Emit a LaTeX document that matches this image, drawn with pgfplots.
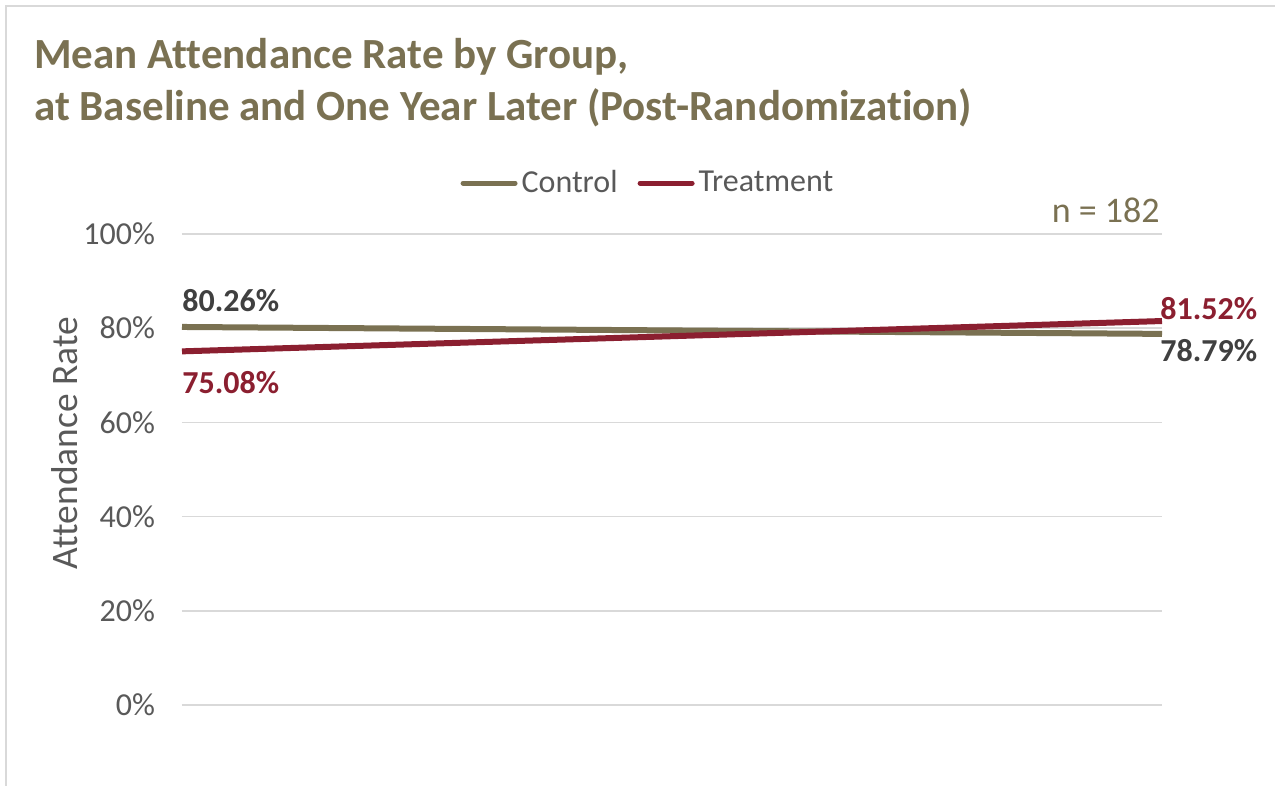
\documentclass[border=0pt]{standalone}
\usepackage{pgfplots}
\pgfplotsset{compat=1.18}
\usepackage{fontspec}
\setmainfont{Carlito}[Ligatures={NoCommon}]

\definecolor{ctrl}{HTML}{7A7152}
\definecolor{treat}{HTML}{8B1F30}
\definecolor{txtgray}{HTML}{595959}
\definecolor{lbldark}{HTML}{404040}
\definecolor{gridgray}{HTML}{D9D9D9}

\begin{document}
\begin{tikzpicture}
\useasboundingbox (0pt,0pt) rectangle (637.5pt,393pt);
% chart frame (left and top edges)
\draw[gridgray, line width=1pt] (3pt,-10pt) -- (3pt,390pt) -- (700pt,390pt);
% title
\node[anchor=base west, inner sep=0pt, text=ctrl, font=\fontsize{21.5}{25}\selectfont\bfseries] at (17pt,358.5pt) {Mean Attendance Rate by Group,};
\node[anchor=base west, inner sep=0pt, text=ctrl, font=\fontsize{21.5}{25}\selectfont\bfseries] at (17pt,332.5pt) {at Baseline and One Year Later (Post-Randomization)};
\begin{axis}[
  at={(91pt,40.5pt)}, anchor=south west,
  scale only axis, width=490pt, height=235.5pt,
  xmin=0, xmax=1, ymin=0, ymax=100,
  xtick=\empty,
  ytick={0,20,40,60,80,100},
  yticklabels={0\%,20\%,40\%,60\%,80\%,100\%},
  /pgf/number format/assume math mode=true,
  major tick length=0pt,
  axis line style={draw=none},
  ymajorgrids, grid style={gridgray, line width=0.75pt},
  yticklabel style={font=\fontsize{16}{19}\selectfont, text=txtgray, anchor=east, xshift=-10pt},
  ylabel={Attendance Rate},
  every axis y label/.style={at={(axis description cs:-0.1194,0.556)}, rotate=90, anchor=center,
    font=\fontsize{18.7}{22}\selectfont, text=txtgray},
  clip=false,
  legend columns=2,
  legend style={draw=none, fill=none, at={(axis description cs:0.4765,1.108)}, anchor=center,
    font=\fontsize{16}{19}\selectfont, text=txtgray,
    /tikz/every even column/.append style={column sep=8pt}},
  legend image code/.code={\draw[#1, line width=2.5pt, line cap=round] (0pt,0pt) -- (26pt,0pt);},
]
\addplot[ctrl, line width=3pt] coordinates {(0,80.26) (1,78.79)};
\addlegendentry{Control}
\addplot[treat, line width=3pt] coordinates {(0,75.08) (1,81.52)};
\addlegendentry{Treatment}

\node[anchor=base west, inner sep=0pt, font=\fontsize{16}{19}\selectfont\bfseries, text=lbldark, yshift=7.5pt] at (axis cs:0,80.26) {80.26\%};
\node[anchor=base west, inner sep=0pt, font=\fontsize{16}{19}\selectfont\bfseries, text=treat, yshift=-21.3pt] at (axis cs:0,75.08) {75.08\%};
\node[anchor=base west, inner sep=0pt, font=\fontsize{16}{19}\selectfont\bfseries, text=treat, yshift=1pt, xshift=-1pt] at (axis cs:1,81.52) {81.52\%};
\node[anchor=base west, inner sep=0pt, font=\fontsize{16}{19}\selectfont\bfseries, text=lbldark, yshift=-14pt, xshift=-1pt] at (axis cs:1,78.79) {78.79\%};
\end{axis}
\node[anchor=base east, inner sep=0pt, text=ctrl, font=\fontsize{18}{21}\selectfont] at (580pt,281.5pt) {n = 182};
\end{tikzpicture}
\end{document}
